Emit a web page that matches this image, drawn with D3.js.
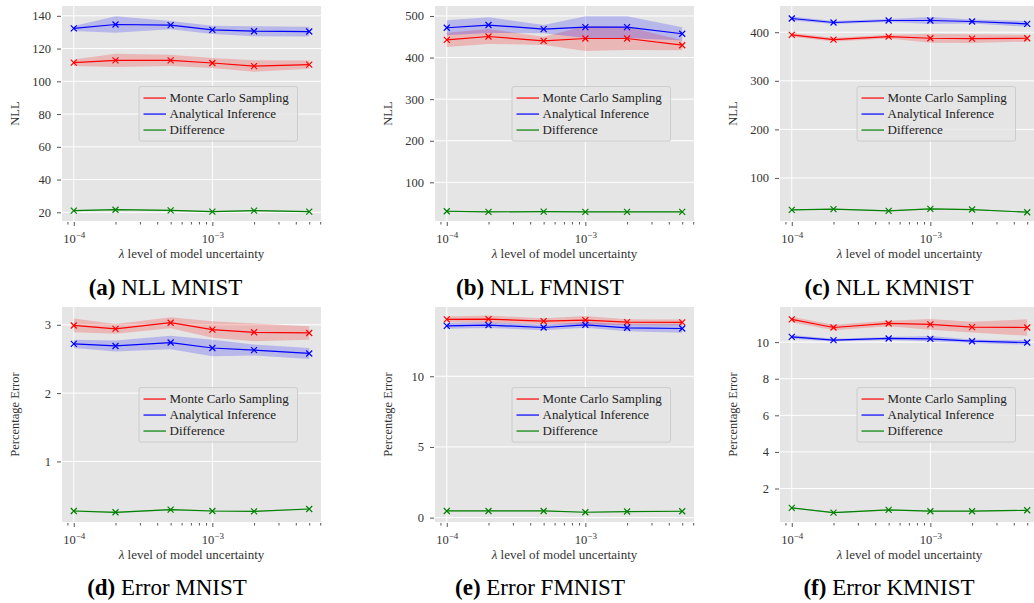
<!DOCTYPE html>
<html>
<head>
<meta charset="utf-8">
<script src="https://cdn.jsdelivr.net/npm/d3@7"></script>
<style>
  body { margin: 0; background: #fff; }
  svg { display: block; }
  svg text { font-family: 'Liberation Serif', 'Times New Roman', serif; }
</style>
</head>
<body>
<div id="chart"></div>
<script>
// lambda values (x axis, log scale)
const lambdas = [1e-4, 2e-4, 5e-4, 1e-3, 2e-3, 5e-3];
const seriesNames = ["Monte Carlo Sampling", "Analytical Inference", "Difference"];
const seriesColors = ["#ff0000", "#0000ff", "#008000"];

// (a) NLL MNIST
const nllMnistMC = [111.4, 112.8, 112.8, 111.2, 109.3, 110.2];
const nllMnistMCStd = [2, 4, 3.5, 3, 3.5, 2.5];
const nllMnistAI = [132.3, 134.7, 134.3, 131.4, 130.6, 130.4];
const nllMnistAIStd = [1.5, 5, 2.5, 2.5, 3, 3];
const nllMnistDiff = [21.0, 21.6, 21.2, 20.4, 21.0, 20.4];
const nllMnistDiffStd = [0.4, 0.4, 0.4, 0.4, 0.4, 0.4];

// (b) NLL FMNIST
const nllFmnistMC = [442.6, 450.7, 440.2, 445.9, 445.9, 429.7];
const nllFmnistMCStd = [17, 18, 10, 30, 28, 12];
const nllFmnistAI = [471.7, 478.2, 468.5, 473.3, 473.3, 457.2];
const nllFmnistAIStd = [18, 19, 10, 26, 26, 16];
const nllFmnistDiff = [30.5, 28.9, 29.7, 28.9, 28.9, 28.9];
const nllFmnistDiffStd = [1.5, 1, 1, 1, 1, 1];

// (c) NLL KMNIST
const nllKmnistMC = [394.5, 384.8, 391.0, 387.6, 386.9, 387.6];
const nllKmnistMCStd = [4, 4, 4, 9, 9, 7];
const nllKmnistAI = [428.3, 420.0, 424.2, 424.2, 422.1, 417.3];
const nllKmnistAIStd = [4, 3, 3, 7, 4, 6];
const nllKmnistDiff = [34.3, 35.7, 32.3, 36.4, 35.0, 29.5];
const nllKmnistDiffStd = [1, 1, 1, 1, 1, 1];

// (d) Error MNIST
const errMnistMC = [2.99, 2.94, 3.03, 2.93, 2.89, 2.88];
const errMnistMCStd = [0.1, 0.07, 0.08, 0.12, 0.13, 0.1];
const errMnistAI = [2.72, 2.69, 2.74, 2.66, 2.63, 2.58];
const errMnistAIStd = [0.06, 0.08, 0.1, 0.12, 0.08, 0.08];
const errMnistDiff = [0.275, 0.256, 0.294, 0.275, 0.270, 0.304];
const errMnistDiffStd = [0.01, 0.01, 0.01, 0.01, 0.01, 0.01];

// (e) Error FMNIST
const errFmnistMC = [14.02, 14.04, 13.90, 13.97, 13.83, 13.81];
const errFmnistMCStd = [0.2, 0.25, 0.2, 0.3, 0.2, 0.2];
const errFmnistAI = [13.57, 13.62, 13.45, 13.64, 13.43, 13.38];
const errFmnistAIStd = [0.2, 0.2, 0.2, 0.2, 0.25, 0.3];
const errFmnistDiff = [0.47, 0.47, 0.47, 0.38, 0.43, 0.45];
const errFmnistDiffStd = [0.03, 0.03, 0.03, 0.03, 0.03, 0.03];

// (f) Error KMNIST
const errKmnistMC = [11.24, 10.80, 11.02, 10.97, 10.82, 10.80];
const errKmnistMCStd = [0.15, 0.15, 0.15, 0.3, 0.3, 0.45];
const errKmnistAI = [10.29, 10.11, 10.20, 10.18, 10.05, 9.98];
const errKmnistAIStd = [0.1, 0.08, 0.08, 0.15, 0.1, 0.12];
const errKmnistDiff = [0.94, 0.68, 0.83, 0.76, 0.76, 0.81];
const errKmnistDiffStd = [0.03, 0.03, 0.03, 0.03, 0.03, 0.03];

const nllTicksMnist = [20, 40, 60, 80, 100, 120, 140];
const nllTicksFmnist = [100, 200, 300, 400, 500];
const nllTicksKmnist = [100, 200, 300, 400];
const errTicksMnist = [1, 2, 3];
const errTicksFmnist = [0, 5, 10];
const errTicksKmnist = [2, 4, 6, 8, 10];

const width = 1034, height = 603;
const plotW = 259, plotH = 215;
const serif = "'Liberation Serif', 'Times New Roman', serif";

const panels = [
  { letter: "a", title: "NLL MNIST", ylabel: "NLL", left: 62, top: 6, capX: 165.5, capY: 295,
    yDomain: [14.7, 146], yTicks: nllTicksMnist,
    series: [[nllMnistMC, nllMnistMCStd], [nllMnistAI, nllMnistAIStd], [nllMnistDiff, nllMnistDiffStd]] },
  { letter: "b", title: "NLL FMNIST", ylabel: "NLL", left: 435, top: 6, capX: 540, capY: 295,
    yDomain: [7, 524], yTicks: nllTicksFmnist,
    series: [[nllFmnistMC, nllFmnistMCStd], [nllFmnistAI, nllFmnistAIStd], [nllFmnistDiff, nllFmnistDiffStd]] },
  { letter: "c", title: "NLL KMNIST", ylabel: "NLL", left: 780, top: 6, capX: 889, capY: 295,
    yDomain: [11.4, 454], yTicks: nllTicksKmnist,
    series: [[nllKmnistMC, nllKmnistMCStd], [nllKmnistAI, nllKmnistAIStd], [nllKmnistDiff, nllKmnistDiffStd]] },
  { letter: "d", title: "Error MNIST", ylabel: "Percentage Error", left: 62, top: 307, capX: 167, capY: 595,
    yDomain: [0.114, 3.26], yTicks: errTicksMnist,
    series: [[errMnistMC, errMnistMCStd], [errMnistAI, errMnistAIStd], [errMnistDiff, errMnistDiffStd]] },
  { letter: "e", title: "Error FMNIST", ylabel: "Percentage Error", left: 435, top: 307, capX: 540, capY: 595,
    yDomain: [-0.31, 14.9], yTicks: errTicksFmnist,
    series: [[errFmnistMC, errFmnistMCStd], [errFmnistAI, errFmnistAIStd], [errFmnistDiff, errFmnistDiffStd]] },
  { letter: "f", title: "Error KMNIST", ylabel: "Percentage Error", left: 780, top: 307, capX: 889, capY: 595,
    yDomain: [0.17, 11.92], yTicks: errTicksKmnist,
    series: [[errKmnistMC, errKmnistMCStd], [errKmnistAI, errKmnistAIStd], [errKmnistDiff, errKmnistDiffStd]] }
];

const svg = d3.select("#chart").append("svg")
  .attr("width", width)
  .attr("height", height)
  .attr("font-family", serif);

// matplotlib-like 5% margins on the log axis
const xLo = Math.pow(10, -4 - 0.085), xHi = Math.pow(10, Math.log10(5e-3) + 0.085);
const majorX = [1e-4, 1e-3];
const minorX = [9e-5, 2e-4, 3e-4, 4e-4, 5e-4, 6e-4, 7e-4, 8e-4, 9e-4, 2e-3, 3e-3, 4e-3, 5e-3, 6e-3];

panels.forEach(p => {
  const g = svg.append("g").attr("transform", `translate(${p.left},${p.top})`);
  const x = d3.scaleLog().domain([xLo, xHi]).range([0, plotW]);
  const y = d3.scaleLinear().domain(p.yDomain).range([plotH, 0]);

  g.append("rect").attr("width", plotW).attr("height", plotH).attr("fill", "#e5e5e5");

  // grid
  g.selectAll(".gy").data(p.yTicks).enter().append("line")
    .attr("x1", 0).attr("x2", plotW)
    .attr("y1", d => y(d)).attr("y2", d => y(d))
    .attr("stroke", "#fff").attr("stroke-width", 1);
  g.selectAll(".gx").data(majorX).enter().append("line")
    .attr("y1", 0).attr("y2", plotH)
    .attr("x1", d => x(d)).attr("x2", d => x(d))
    .attr("stroke", "#fff").attr("stroke-width", 1);

  // y axis
  const yAxis = g.append("g").attr("transform", "translate(-1,0)")
    .call(d3.axisLeft(y).tickValues(p.yTicks).tickSize(4).tickPadding(6).tickFormat(d3.format("d")));
  yAxis.attr("font-family", serif).attr("font-size", 12.5);
  yAxis.select(".domain").remove();
  yAxis.selectAll("line").attr("stroke", "#555");
  yAxis.selectAll("text").attr("fill", "#333");

  // x axis: minor ticks
  const xMinor = g.append("g").attr("transform", `translate(0,${plotH + 1})`)
    .call(d3.axisBottom(x).tickValues(minorX).tickSize(2.5).tickFormat(""));
  xMinor.select(".domain").remove();
  xMinor.selectAll("line").attr("stroke", "#555");

  // x axis: major ticks with 10^k labels
  const xMajor = g.append("g").attr("transform", `translate(0,${plotH + 1})`)
    .call(d3.axisBottom(x).tickValues(majorX).tickSize(4).tickFormat(""));
  xMajor.attr("font-family", serif).attr("font-size", 12.5);
  xMajor.select(".domain").remove();
  xMajor.selectAll("line").attr("stroke", "#555");
  xMajor.selectAll(".tick").each(function(d) {
    const t = d3.select(this).append("text")
      .attr("y", 20.5).attr("fill", "#333").attr("text-anchor", "middle");
    t.append("tspan").text("10");
    t.append("tspan").attr("dy", -5).attr("font-size", 9).text("\u2212" + Math.round(-Math.log10(d)));
  });

  // axis labels
  const xl = g.append("text")
    .attr("x", plotW / 2).attr("y", plotH + 36.5)
    .attr("text-anchor", "middle").attr("fill", "#333").attr("font-size", 13);
  xl.append("tspan").attr("font-style", "italic").text("\u03bb");
  xl.append("tspan").text(" level of model uncertainty");

  g.append("text")
    .attr("transform", `translate(${-43},${plotH / 2}) rotate(-90)`)
    .attr("text-anchor", "middle").attr("fill", "#333").attr("font-size", 12.5)
    .text(p.ylabel);

  const area = d3.area()
    .x((d, i) => x(lambdas[i]))
    .y0(d => y(d[0] - d[1]))
    .y1(d => y(d[0] + d[1]));
  const line = d3.line()
    .x((d, i) => x(lambdas[i]))
    .y(d => y(d));

  p.series.forEach(([mean, std], k) => {
    g.append("path")
      .datum(mean.map((m, i) => [m, std[i]]))
      .attr("d", area)
      .attr("fill", seriesColors[k]).attr("fill-opacity", 0.2);
  });

  p.series.forEach(([mean], k) => {
    g.append("path").datum(mean).attr("d", line)
      .attr("fill", "none").attr("stroke", seriesColors[k]).attr("stroke-width", 1.2);
    const s = 3;
    g.selectAll(null).data(mean).enter().append("path")
      .attr("d", (d, i) => {
        const cx = x(lambdas[i]), cy = y(d);
        return `M${cx - s},${cy - s}L${cx + s},${cy + s}M${cx - s},${cy + s}L${cx + s},${cy - s}`;
      })
      .attr("stroke", seriesColors[k]).attr("stroke-width", 1.2);
  });

  // legend
  const lw = 158.5, lh = 54.5;
  const lg = g.append("g").attr("transform", `translate(${plotW - 23.5 - lw},${plotH / 2 - lh / 2 + 0.3})`);
  lg.append("rect").attr("width", lw).attr("height", lh).attr("rx", 2)
    .attr("fill", "#e5e5e5").attr("fill-opacity", 0.8)
    .attr("stroke", "#cccccc").attr("stroke-width", 1);
  seriesNames.forEach((name, k) => {
    const ry = 11.5 + k * 16;
    lg.append("line").attr("x1", 4.5).attr("x2", 27).attr("y1", ry).attr("y2", ry)
      .attr("stroke", seriesColors[k]).attr("stroke-width", 1.2);
    lg.append("text").attr("x", 30.5).attr("y", ry + 4.3)
      .attr("fill", "#222").attr("font-size", 13).text(name);
  });

  // caption
  const cap = svg.append("text")
    .attr("x", p.capX).attr("y", p.capY)
    .attr("text-anchor", "middle").attr("fill", "#000")
    .attr("font-size", 23);
  cap.append("tspan").attr("font-weight", "bold").text(`(${p.letter})`);
  cap.append("tspan").text(" " + p.title);
});
</script>
</body>
</html>
